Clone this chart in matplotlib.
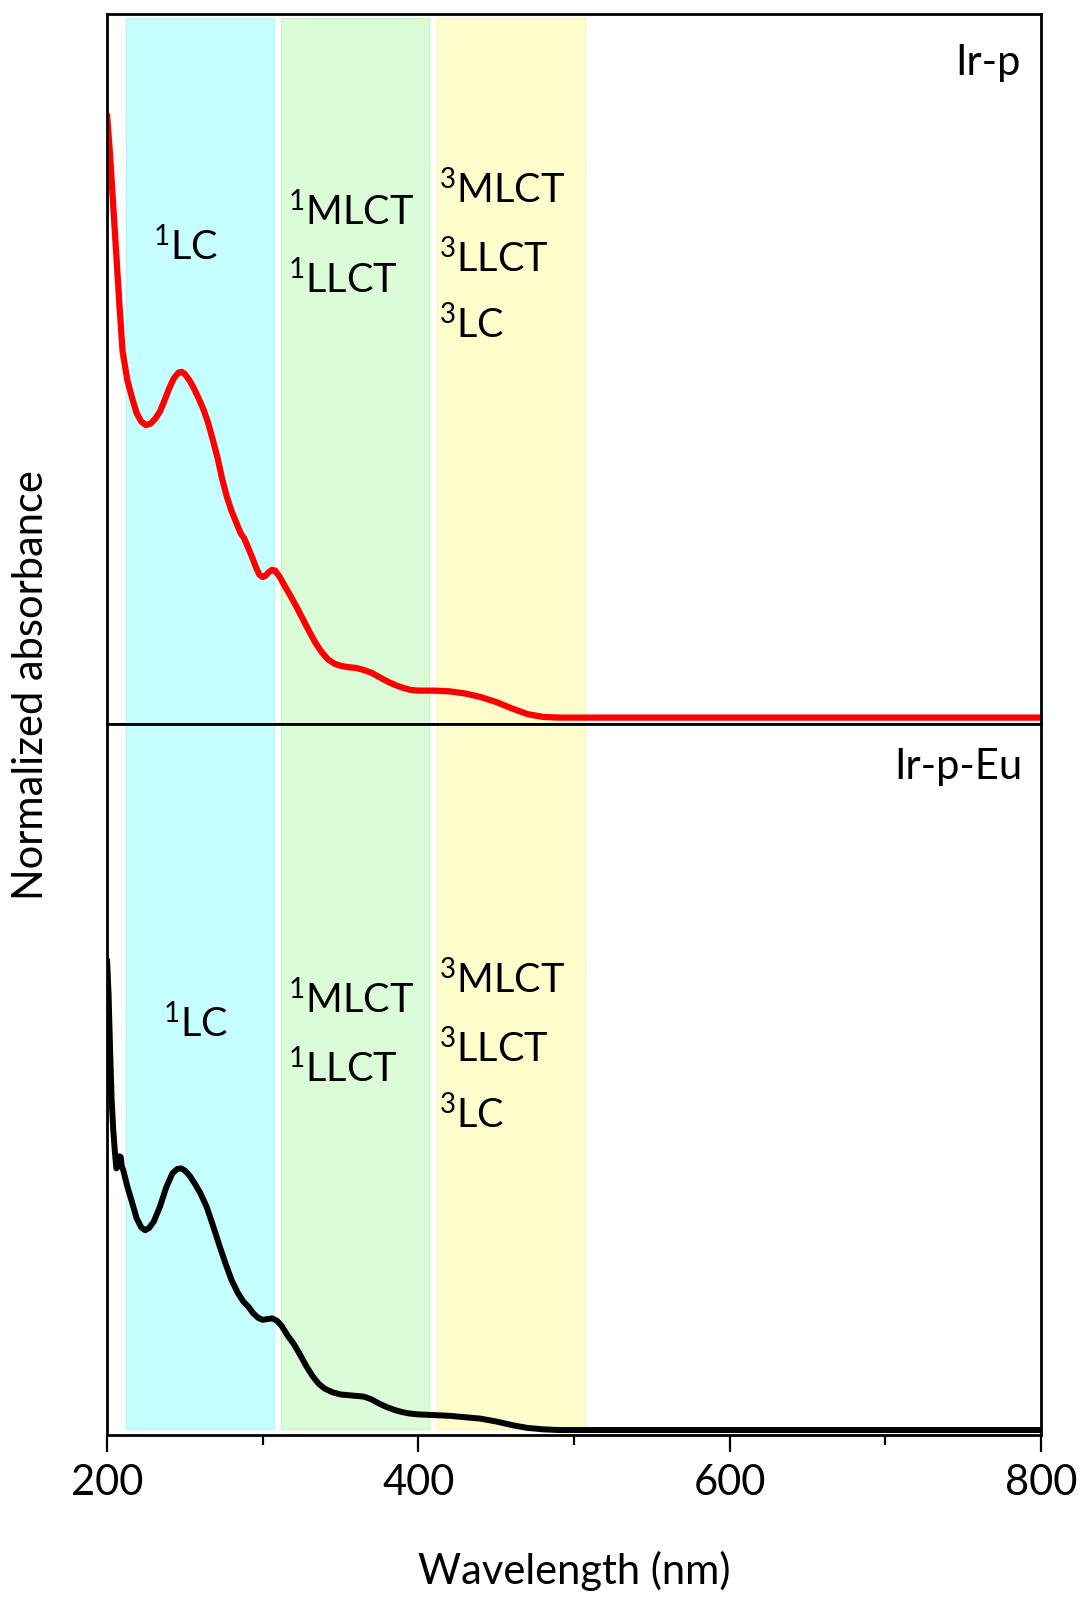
import matplotlib
matplotlib.use("Agg")
import matplotlib.pyplot as plt
from matplotlib.ticker import MultipleLocator

plt.rcParams['font.family'] = ['Lato', 'DejaVu Sans']
plt.rcParams['mathtext.fontset'] = 'custom'
plt.rcParams['mathtext.rm'] = 'Lato'
plt.rcParams['mathtext.it'] = 'Lato:italic'
plt.rcParams['mathtext.bf'] = 'Lato:bold'

# Absorption spectra (normalized)
wl_irp = [200, 202, 204, 206, 208, 210, 213, 216, 219, 222, 225, 228, 231, 234, 237,
          240, 243, 246, 248, 250, 253, 256, 259, 262, 265, 268, 271, 274, 277, 280,
          283, 286, 288, 290, 293, 296, 298, 300, 302, 304, 306, 308, 311, 314, 318,
          322, 326, 330, 334, 338, 342, 346, 350, 355, 360, 365, 370, 375, 380, 385,
          390, 395, 400, 410, 420, 430, 440, 450, 460, 470, 480, 490, 500, 550, 600,
          650, 700, 750, 800]
abs_irp = [0.860, 0.800, 0.730, 0.660, 0.590, 0.525, 0.485, 0.460, 0.438, 0.426, 0.421,
           0.423, 0.430, 0.440, 0.456, 0.473, 0.487, 0.495, 0.496, 0.493, 0.484, 0.472,
           0.458, 0.443, 0.424, 0.400, 0.375, 0.345, 0.320, 0.300, 0.284, 0.268, 0.262,
           0.252, 0.236, 0.219, 0.210, 0.207, 0.209, 0.214, 0.217, 0.216, 0.207, 0.195,
           0.180, 0.164, 0.147, 0.130, 0.114, 0.101, 0.091, 0.085, 0.082, 0.080, 0.079,
           0.076, 0.072, 0.066, 0.060, 0.055, 0.051, 0.048, 0.047, 0.047, 0.046, 0.043,
           0.038, 0.031, 0.022, 0.014, 0.010, 0.009, 0.009, 0.009, 0.009, 0.009, 0.009,
           0.009, 0.009]

wl_irpeu = [200, 201, 202, 203, 204, 205, 206, 207, 208, 208.8, 209.5, 210.5, 213, 216,
            219, 222, 224.5, 227, 230, 234, 238, 242, 245, 247.5, 250, 253, 256, 260,
            264, 268, 272, 276, 280, 284, 287.5, 291, 294, 297, 300, 303, 306, 309, 312,
            316, 320, 324, 328, 332, 336, 340, 345, 350, 355, 360, 365, 370, 375, 380,
            385, 390, 395, 400, 410, 420, 430, 440, 450, 460, 470, 480, 490, 500, 550,
            600, 650, 700, 750, 800]
abs_irpeu = [0.670, 0.620, 0.540, 0.470, 0.430, 0.400, 0.375, 0.378, 0.392, 0.391, 0.378,
             0.372, 0.350, 0.328, 0.305, 0.292, 0.288, 0.291, 0.300, 0.321, 0.348, 0.368,
             0.374, 0.375, 0.372, 0.365, 0.355, 0.340, 0.321, 0.295, 0.268, 0.242, 0.218,
             0.200, 0.188, 0.180, 0.171, 0.165, 0.162, 0.163, 0.164, 0.161, 0.154, 0.140,
             0.128, 0.113, 0.097, 0.083, 0.072, 0.065, 0.060, 0.057, 0.056, 0.055, 0.054,
             0.050, 0.044, 0.039, 0.035, 0.032, 0.030, 0.029, 0.028, 0.027, 0.025, 0.023,
             0.019, 0.014, 0.010, 0.008, 0.007, 0.007, 0.007, 0.007, 0.007, 0.007, 0.007,
             0.007]

# Transition regions (nm)
band_ranges = [(212, 307), (312, 407), (412, 507)]
band_faces = ['#C6FFFF', '#DAFDD8', '#FFFDCC']
band_edges = ['#B4F8F8', '#C8F4C8', '#FAF4B8']

panel_names = ['Ir-p', 'Ir-p-Eu']
band_labels = [['$^{1}$LC'], ['$^{1}$MLCT', '$^{1}$LLCT'], ['$^{3}$MLCT', '$^{3}$LLCT', '$^{3}$LC']]

xticks_major = [200, 400, 600, 800]

W, H = 1083, 1598
fig = plt.figure(figsize=(W / 100, H / 100), dpi=100)

left, right = 107 / W, 1041 / W
y_top, y_mid, y_bot = 1 - 14 / H, 1 - 724 / H, 1 - 1435 / H
ax1 = fig.add_axes([left, y_mid, right - left, y_top - y_mid])
ax2 = fig.add_axes([left, y_bot, right - left, y_mid - y_bot])

FS = 30
FS_BAND = 28.5
spine_lw = 2.0

for ax, wl, ab, color, lw, (ylo, yhi) in [
        (ax1, wl_irp, abs_irp, '#FF0000', 4.5, (0.0, 0.995)),
        (ax2, wl_irpeu, abs_irpeu, '#000000', 4.3, (0.008, 1.0))]:
    for (a, b), fc, ec in zip(band_ranges, band_faces, band_edges):
        ax.axvspan(a, b, ymin=ylo, ymax=yhi, facecolor=fc, edgecolor=ec, lw=1.0, zorder=1)
    ax.plot(wl, ab, color=color, lw=lw, solid_joinstyle='round',
            solid_capstyle='butt', zorder=3)
    ax.set_xlim(200, 800)
    ax.set_ylim(0, 1)
    ax.set_yticks([])
    for s in ax.spines.values():
        s.set_linewidth(spine_lw)
        s.set_zorder(5)

ax1.set_xticks([])
ax2.set_xticks(xticks_major)
ax2.xaxis.set_minor_locator(MultipleLocator(100))
ax2.tick_params(axis='x', which='major', direction='out', length=12, width=1.6,
                labelsize=FS, pad=9)
ax2.tick_params(axis='x', which='minor', direction='out', length=7, width=1.6)

# Panel names
fig.text(1021 / W, 1 - 63 / H, panel_names[0], ha='right', va='center', fontsize=FS)
fig.text(1022 / W, 1 - 767 / H, panel_names[1], ha='right', va='center', fontsize=FS)

# Band annotations (left x, baselines) in pixel positions
top_pos = [(153, [260]), (288, [225, 293]), (439, [203, 272, 338])]
bot_pos = [(163, [1037]), (288, [1013, 1082]), (439, [993, 1062, 1128])]
for pos in (top_pos, bot_pos):
    for (xp, ys), labels in zip(pos, band_labels):
        for yp, lab in zip(ys, labels):
            fig.text(xp / W, 1 - yp / H, lab, ha='left', va='baseline', fontsize=FS_BAND)

fig.text(574 / W, 1 - 1571 / H, 'Wavelength (nm)', ha='center', va='center', fontsize=FS)
fig.text(31 / W, 1 - 685 / H, 'Normalized absorbance', ha='center', va='center',
         rotation=90, fontsize=FS)

fig.savefig('out.png', dpi=100)
